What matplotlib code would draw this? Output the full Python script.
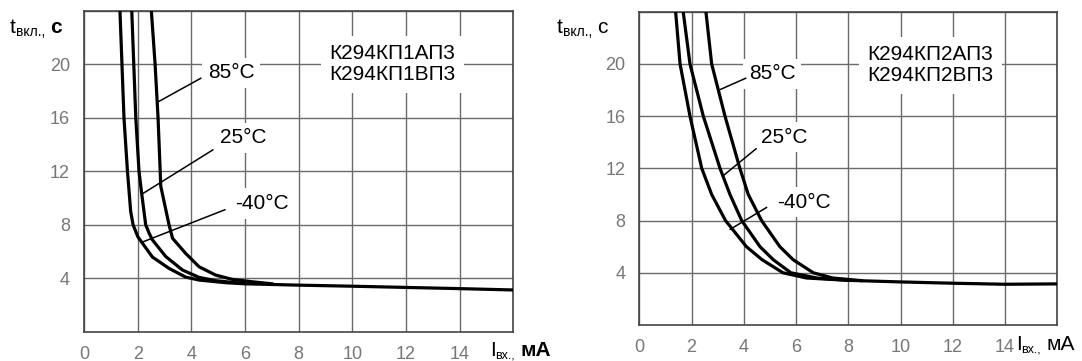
import matplotlib.pyplot as plt

# left chart: К294КП1АП3 / К294КП1ВП3
x40_L = [1.34, 1.49, 1.62, 1.74, 1.83, 2.01, 2.55, 3.17, 3.79, 4.29, 5.3, 6.0, 8.0, 10.0, 12.0, 14.0, 16.0]
y40_L = [24.0, 16.0, 12.0, 9.0, 8.0, 7.1, 5.6, 4.75, 4.1, 3.88, 3.68, 3.6, 3.5, 3.42, 3.33, 3.24, 3.14]
x25_L = [1.78, 1.93, 2.05, 2.14, 2.3, 2.43, 2.55, 3.05, 3.67, 4.29, 4.9, 6.0]
y25_L = [24.0, 16.0, 12.0, 10.5, 8.0, 7.37, 6.88, 5.63, 4.63, 4.08, 3.83, 3.62]
x85_L = [2.51, 2.65, 2.76, 2.84, 2.86, 3.17, 3.3, 3.79, 4.29, 4.91, 5.53, 6.28, 7.0]
y85_L = [24.0, 20.0, 16.0, 12.0, 10.9, 8.0, 7.0, 5.87, 4.87, 4.25, 3.93, 3.75, 3.6]

# right chart: К294КП2АП3 / К294КП2ВП3
x40_R = [1.39, 1.56, 1.94, 2.39, 2.77, 3.3, 4.1, 4.7, 5.5, 6.4, 8.0, 10.0, 12.0, 14.0, 16.0]
y40_R = [24.0, 20.0, 16.0, 12.0, 10.0, 8.0, 6.0, 5.0, 4.0, 3.6, 3.42, 3.3, 3.2, 3.12, 3.15]
x25_R = [1.68, 1.94, 2.45, 3.09, 3.47, 3.92, 4.62, 5.13, 5.8, 6.8, 8.0]
y25_R = [24.0, 20.0, 16.0, 12.0, 10.0, 8.0, 6.0, 5.0, 4.0, 3.6, 3.42]
x85_R = [2.55, 2.77, 3.28, 3.85, 4.17, 4.68, 5.38, 5.89, 6.66, 7.4, 8.5]
y85_R = [24.0, 20.0, 16.0, 12.0, 10.0, 8.0, 6.0, 5.0, 4.0, 3.6, 3.4]

x_ticks = [0, 2, 4, 6, 8, 10, 12, 14]
y_ticks = [4, 8, 12, 16, 20]
temps = ["85°C", "25°C", "-40°C"]

plt.rcParams['font.family'] = ['Liberation Sans', 'DejaVu Sans']

fig = plt.figure(figsize=(10.82, 3.61), dpi=100)
axL = fig.add_axes([84 / 1082, 1 - 332 / 361, 429.3 / 1082, 321.3 / 361])
axR = fig.add_axes([639.3 / 1082, 1 - 325 / 361, 418 / 1082, 313.3 / 361])


def setup(ax):
    ax.set_xlim(0, 16)
    ax.set_ylim(0, 24)
    ax.set_xticks(x_ticks + [16])
    ax.set_xticklabels([str(v) for v in x_ticks] + [""])
    ax.set_yticks(y_ticks + [24])
    ax.set_yticklabels([str(v) for v in y_ticks] + [""])
    ax.tick_params(length=0, labelsize=13, labelcolor='#777777', pad=10)
    ax.grid(True, color='#6a6a6a', linewidth=1)
    ax.set_axisbelow(True)
    for s in ax.spines.values():
        s.set_color('#444444')
        s.set_linewidth(1.2)


def labels(ax, pos, leaders, model):
    for (tx, ty), t in zip(pos, temps):
        ax.text(tx, ty, t, fontsize=15, ha='left', va='center', zorder=3,
                bbox=dict(facecolor='white', edgecolor='none', pad=4))
    for (x1, y1, x2, y2) in leaders:
        ax.plot([x1, x2], [y1, y2], color='black', linewidth=1.1, zorder=4)
    ax.text(model[0], model[1], model[2], fontsize=15, ha='center', va='center',
            linespacing=1.15, zorder=3,
            bbox=dict(facecolor='white', edgecolor='none', pad=6))


setup(axL)
setup(axR)

for x, y in [(x40_L, y40_L), (x25_L, y25_L), (x85_L, y85_L)]:
    axL.plot(x, y, color='black', linewidth=2.3, zorder=5, solid_joinstyle='round')
for x, y in [(x40_R, y40_R), (x25_R, y25_R), (x85_R, y85_R)]:
    axR.plot(x, y, color='black', linewidth=2.3, zorder=5, solid_joinstyle='round')

labels(axL, [(4.61, 19.35), (5.06, 14.5), (5.64, 9.6)],
       [(2.77, 17.2, 4.35, 18.95), (2.16, 10.3, 4.8, 13.6), (2.23, 6.76, 5.25, 9.13)],
       (11.5, 20.0, "К294КП1АП3\nК294КП1ВП3"))
labels(axR, [(4.2, 19.25), (4.67, 14.4), (5.26, 9.4)],
       [(3.11, 18.05, 4.07, 18.9), (3.19, 11.4, 4.47, 13.5), (3.48, 7.33, 4.87, 9.0)],
       (11.15, 19.9, "К294КП2АП3\nК294КП2ВП3"))

# axis titles in figure pixels
for x0, bold in [(10, True), (557, False)]:
    fig.text(x0 / 1082, 1 - 33 / 361, "t", fontsize=15, ha='left', va='baseline')
    fig.text((x0 + 6) / 1082, 1 - 36 / 361, "вкл.,", fontsize=10, ha='left', va='baseline')
    fig.text((x0 + 40) / 1082, 1 - 33 / 361, "с", fontsize=15, ha='left', va='baseline',
             fontweight='bold' if bold else 'normal')

for x0, y0, bold in [(490, 356, True), (1016, 350, False)]:
    fig.text(x0 / 1082, 1 - y0 / 361, "I", fontsize=15, ha='left', va='baseline')
    fig.text((x0 + 5) / 1082, 1 - (y0 + 3) / 361, "вх.,", fontsize=9, ha='left', va='baseline')
    fig.text((x0 + 30) / 1082, 1 - y0 / 361, "мА", fontsize=15, ha='left', va='baseline',
             fontweight='bold' if bold else 'normal')

fig.savefig("out.png", dpi=100)
